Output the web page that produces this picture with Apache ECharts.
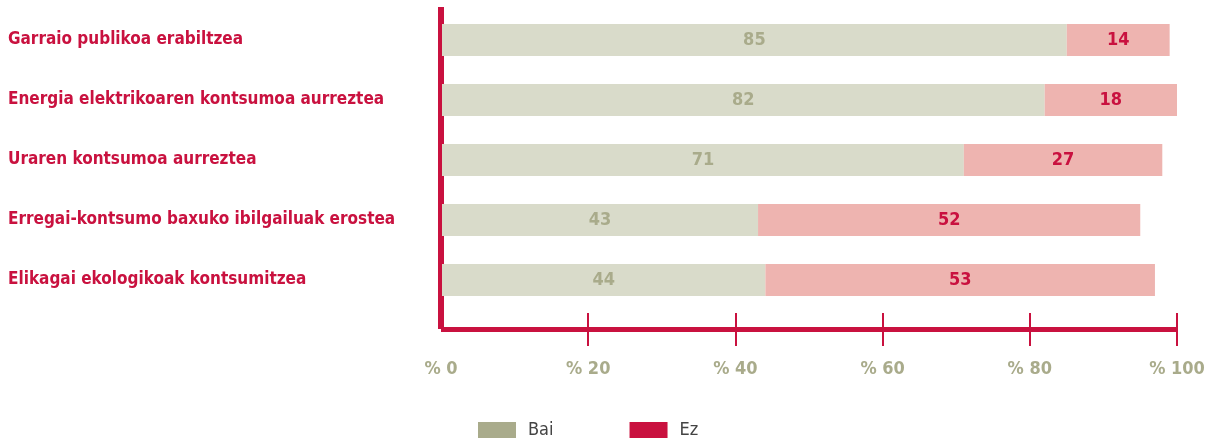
<!DOCTYPE html>
<html>
<head>
<meta charset="utf-8">
<script src="https://cdn.jsdelivr.net/npm/echarts@6/dist/echarts.min.js"></script>
<style>
  html, body { margin: 0; padding: 0; background: #fff; }
  #chart { width: 1214px; height: 441px; }
</style>
</head>
<body>
<div id="chart"></div>
<script>
// data
const categories = [
  'Garraio publikoa erabiltzea',
  'Energia elektrikoaren kontsumoa aurreztea',
  'Uraren kontsumoa aurreztea',
  'Erregai-kontsumo baxuko ibilgailuak erostea',
  'Elikagai ekologikoak kontsumitzea'
];
const baiValues = [85, 82, 71, 43, 44];
const ezValues = [14, 18, 27, 52, 53];
const tickValues = [0, 20, 40, 60, 80, 100];
const tickMarks = [20, 40, 60, 80, 100]; // no tick drawn at 0, the corner hides it

const font = '"DejaVu Sans Condensed", "Liberation Sans", sans-serif';
const crimson = '#c9113f';
const olive = '#a9ab8b';

const chart = echarts.init(document.getElementById('chart'));
chart.setOption({
  animation: false,
  textStyle: { fontFamily: font },
  legend: {
    top: 416,
    left: 473,
    itemWidth: 38,
    itemHeight: 16,
    itemGap: 76,
    icon: 'rect',
    textStyle: { fontSize: 18, color: '#444', fontFamily: font, padding: [0, 0, 0, 7] },
    data: [
      { name: 'Bai', itemStyle: { color: olive } },
      { name: 'Ez', itemStyle: { color: crimson } }
    ]
  },
  grid: [
    { left: 442, right: 37, top: 10, height: 300 },
    { left: 441, right: 37, top: 7, bottom: 112 }
  ],
  xAxis: [
    { gridIndex: 0, type: 'value', min: 0, max: 100, show: false },
    {
      gridIndex: 1, type: 'value', min: 0, max: 100, interval: 20, position: 'bottom',
      axisLine: { show: true, lineStyle: { color: crimson, width: 5, cap: 'butt' } },
      axisTick: { show: true, length: 17, customValues: tickMarks, lineStyle: { color: crimson, width: 2 } },
      splitLine: { show: false },
      axisLabel: {
        margin: 31, fontSize: 18, fontWeight: 'bold', color: olive, fontFamily: font,
        formatter: v => tickValues.indexOf(v) >= 0 ? '% ' + v : ''
      }
    },
    {
      gridIndex: 1, type: 'value', min: 0, max: 100, interval: 20, position: 'bottom',
      axisLine: { show: false },
      axisTick: { show: true, inside: true, length: 16, customValues: tickMarks, lineStyle: { color: crimson, width: 2 } },
      splitLine: { show: false },
      axisLabel: { show: false }
    }
  ],
  yAxis: [
    {
      gridIndex: 0, type: 'category', data: categories, inverse: true,
      axisLine: { show: false }, axisTick: { show: false },
      axisLabel: {
        align: 'left', margin: 434, fontSize: 17, fontWeight: 'bold', color: crimson, fontFamily: font
      }
    },
    {
      gridIndex: 1, type: 'value', min: 0, max: 1,
      axisLine: { show: true, lineStyle: { color: crimson, width: 6, cap: 'butt' } },
      axisTick: { show: false }, axisLabel: { show: false }, splitLine: { show: false }
    }
  ],
  series: [
    {
      name: 'Bai', type: 'bar', stack: 'total', xAxisIndex: 0, yAxisIndex: 0,
      barWidth: 32, data: baiValues,
      itemStyle: { color: '#d9dbca' },
      label: { show: true, position: 'inside', fontSize: 18, fontWeight: 'bold', color: olive, fontFamily: font }
    },
    {
      name: 'Ez', type: 'bar', stack: 'total', xAxisIndex: 0, yAxisIndex: 0,
      barWidth: 32, data: ezValues,
      itemStyle: { color: '#eeb4b0' },
      label: { show: true, position: 'inside', fontSize: 18, fontWeight: 'bold', color: crimson, fontFamily: font }
    }
  ]
});
</script>
</body>
</html>
